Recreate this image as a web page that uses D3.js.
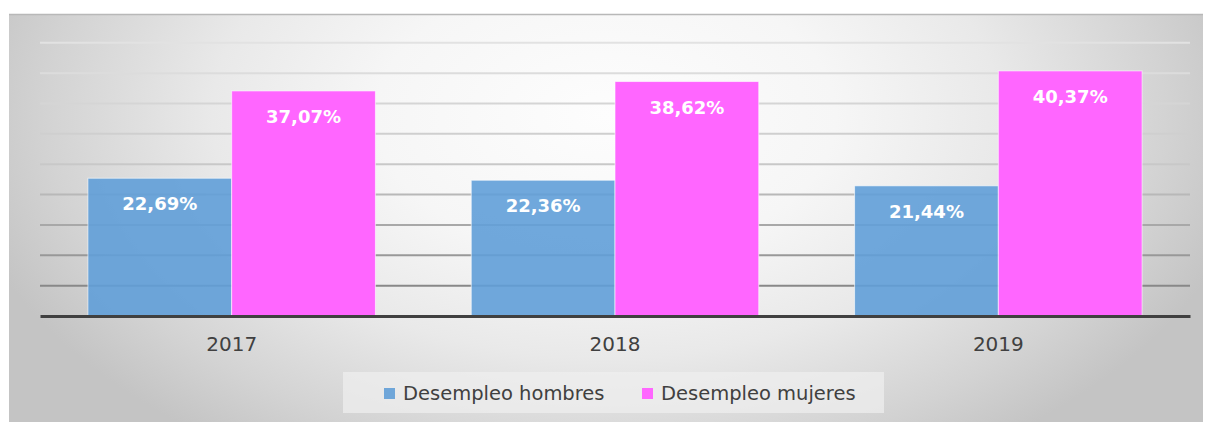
<!DOCTYPE html>
<html>
<head>
<meta charset="utf-8">
<script src="https://cdn.jsdelivr.net/npm/d3@7"></script>
<style>
    body { margin: 0; background: #ffffff; }
    svg { display: block; font-family: "DejaVu Sans", sans-serif; }
</style>
</head>
<body>
<div id="chart"></div>
<script>
// data
const years = ['2017', '2018', '2019']
const series = ['Desempleo hombres', 'Desempleo mujeres']
const hombres = [22.69, 22.36, 21.44]
const mujeres = [37.07, 38.62, 40.37]
const gridTicks = [5, 10, 15, 20, 25, 30, 35, 40, 45]
const colors = ['#619fd8', '#ff66ff']

const width = 1207
const height = 422

const svg = d3.select('#chart').append('svg')
    .attr('width', width)
    .attr('height', height)

// soft radial background, light in the middle, grey at the sides
const defs = svg.append('defs')
const bg = defs.append('radialGradient')
    .attr('id', 'bg')
    .attr('cx', 0.5).attr('cy', 0.25).attr('r', 0.55)
    .attr('gradientTransform', 'translate(0.5,0.25) scale(1,1.8) translate(-0.5,-0.25)')
const bgStops = [[0, '#fdfdfd'], [0.35, '#f6f6f6'], [0.6, '#e9e9e9'], [0.85, '#d3d3d3'], [1, '#c4c4c4']]
bg.selectAll('stop')
    .data(bgStops)
    .enter().append('stop')
    .attr('offset', d => d[0])
    .attr('stop-color', d => d[1])

// chart area
svg.append('rect')
    .attr('x', 9).attr('y', 14)
    .attr('width', 1194).attr('height', 408)
    .attr('fill', 'url(#bg)')
svg.append('line')
    .attr('x1', 9).attr('x2', 1203)
    .attr('y1', 14.5).attr('y2', 14.5)
    .attr('stroke', '#b8b8b8')
    .attr('stroke-width', 1.5)

const x0 = d3.scaleBand().domain(years).range([40, 1190])
const x1 = d3.scaleBand().domain(series)
    .range([x0.bandwidth() * 0.125, x0.bandwidth() * 0.875])
const y = d3.scaleLinear().domain([0, 45]).range([316, 42.8])
const gridColor = d3.scaleLinear().domain([45, 25, 5]).range(['#e2e2e2', '#c8c8c8', '#888888'])

// gridlines
svg.append('g')
    .selectAll('line')
    .data(gridTicks)
    .enter().append('line')
    .attr('x1', 40).attr('x2', 1190)
    .attr('y1', d => y(d)).attr('y2', d => y(d))
    .attr('stroke', d => gridColor(d))
    .attr('stroke-width', 2)

const rows = years.map((yr, i) => ({ year: yr, values: [hombres[i], mujeres[i]] }))
const fmt = d3.formatLocale({ decimal: ',', thousands: '.', grouping: [3], currency: ['', '€'] }).format('.2f')

const groups = svg.append('g')
    .selectAll('g')
    .data(rows)
    .enter().append('g')
    .attr('transform', d => 'translate(' + x0(d.year) + ',0)')

groups.selectAll('rect')
    .data(d => d.values.map((v, j) => ({ key: series[j], value: v, j: j })))
    .enter().append('rect')
    .attr('x', d => x1(d.key))
    .attr('y', d => y(d.value))
    .attr('width', x1.bandwidth())
    .attr('height', d => y(0) - y(d.value))
    .attr('fill', d => colors[d.j])
    .attr('fill-opacity', d => d.j === 0 ? 0.9 : 1)
    .attr('stroke', 'rgba(255,255,255,0.6)')
    .attr('stroke-width', 1)

groups.selectAll('text')
    .data(d => d.values.map((v, j) => ({ key: series[j], value: v })))
    .enter().append('text')
    .attr('x', d => x1(d.key) + x1.bandwidth() / 2)
    .attr('y', d => y(d.value) + 32)
    .attr('text-anchor', 'middle')
    .attr('fill', '#ffffff')
    .style('font-size', '18px')
    .style('font-weight', 'bold')
    .text(d => fmt(d.value) + '%')

// x axis
const xAxis = svg.append('g')
    .attr('transform', 'translate(0,' + y(0) + ')')
    .call(d3.axisBottom(x0).tickSize(0).tickSizeOuter(0).tickPadding(21))
xAxis.select('.domain')
    .attr('stroke', '#404040')
    .attr('stroke-width', 3)
xAxis.selectAll('text')
    .attr('fill', '#404040')
    .style('font-size', '20px')
    .style('font-family', '"DejaVu Sans", sans-serif')

// legend
const legend = svg.append('g')
legend.append('rect')
    .attr('x', 343).attr('y', 372)
    .attr('width', 541).attr('height', 41)
    .attr('fill', '#f0f0f0')
    .attr('fill-opacity', 0.7)
const legendX = [384, 642]
const items = legend.selectAll('g.item')
    .data(series)
    .enter().append('g')
    .attr('class', 'item')
    .attr('transform', (d, i) => 'translate(' + legendX[i] + ',0)')
items.append('rect')
    .attr('x', 0).attr('y', 388)
    .attr('width', 11).attr('height', 11)
    .attr('fill', (d, i) => i === 0 ? '#6fa6d9' : colors[i])
items.append('text')
    .attr('x', 19).attr('y', 400)
    .attr('fill', '#404040')
    .style('font-size', '19.5px')
    .text(d => d)
</script>
</body>
</html>
